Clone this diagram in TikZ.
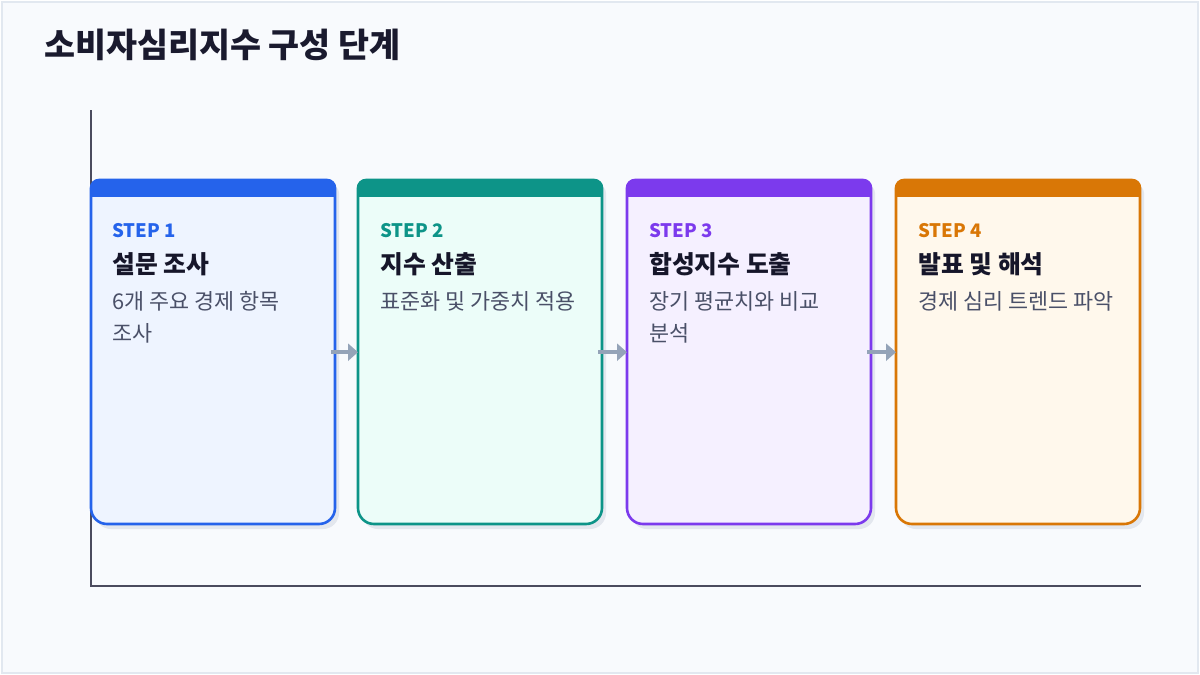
\documentclass[tikz,border=0pt]{standalone}
\usepackage{fontspec}
\setmainfont{Noto Sans CJK KR}
\usetikzlibrary{arrows.meta}
\definecolor{bgc}{HTML}{F8FAFD}
\definecolor{framec}{HTML}{E2E8F0}
\definecolor{shadowc}{HTML}{E3E7EE}
\definecolor{axisc}{HTML}{4B4B5E}
\definecolor{arrc}{HTML}{94A3B8}
\definecolor{titlec}{HTML}{1A1A2E}
\definecolor{headc}{HTML}{16162A}
\definecolor{descc}{HTML}{4A5068}
\definecolor{c1}{HTML}{2563EB}
\definecolor{c2}{HTML}{0D9488}
\definecolor{c3}{HTML}{7C3AED}
\definecolor{c4}{HTML}{D97706}
\definecolor{f1}{HTML}{EEF4FF}
\definecolor{f2}{HTML}{ECFDF9}
\definecolor{f3}{HTML}{F5F0FF}
\definecolor{f4}{HTML}{FFF8EC}
\tikzset{
  txt/.style={inner sep=0pt, anchor=base west},
  steplbl/.style={txt, font=\bfseries\fontsize{18.6}{22}\selectfont},
  headlbl/.style={txt, text=headc, font=\bfseries\fontsize{24.8}{28}\selectfont},
  desclbl/.style={txt, text=descc, font=\fontsize{21.8}{26}\selectfont},
  arr/.style={-{Triangle[length=10pt,width=17pt]}, line width=4pt, draw=arrc},
}
\begin{document}
\begin{tikzpicture}[x=1pt,y=-1pt]
\useasboundingbox (0,0) rectangle (1200,675);
\fill[white] (0,0) rectangle (1200,675);
\draw[fill=bgc, draw=framec, line width=2pt] (2,2) rectangle (1198,673);
\node[txt, text=titlec, font=\bfseries\fontsize{33.7}{38}\selectfont] (title) at (44,57) {소비자심리지수 구성 단계};
% axes
\coordinate (ytop) at (91,110);
\coordinate (orig) at (91,586);
\coordinate (xend) at (1141,586);
\draw[axisc, line width=2pt] (ytop) -- (orig) -- (xend);
% cards
\foreach \x/\c/\f/\n in {91/c1/f1/1, 358/c2/f2/2, 627/c3/f3/3, 896/c4/f4/4}{
  \fill[shadowc, shift={(4,5)}] (\x,352) [rounded corners=8pt] -- (\x,180) -- (\x+122,180) -- (\x+244,180) -- (\x+244,352) [rounded corners=16pt] -- (\x+244,524) -- (\x+122,524) -- (\x,524) -- cycle;
  \begin{scope}
    \clip (\x,352) [rounded corners=8pt] -- (\x,180) -- (\x+122,180) -- (\x+244,180) -- (\x+244,352) [rounded corners=16pt] -- (\x+244,524) -- (\x+122,524) -- (\x,524) -- cycle;
    \fill[\f] (\x,170) rectangle (\x+250,530);
    \fill[\c] (\x,170) rectangle (\x+250,197);
  \end{scope}
  \draw[\c, line width=2.6pt] (\x,352) [rounded corners=8pt] -- (\x,180) -- (\x+122,180) -- (\x+244,180) -- (\x+244,352) [rounded corners=16pt] -- (\x+244,524) -- (\x+122,524) -- (\x,524) -- cycle;
  \node[inner sep=0pt, minimum width=244pt, minimum height=344pt, anchor=north west] (b\n) at (\x,180) {};
}
% texts
\node[steplbl, text=c1] (s1) at (112,237) {STEP 1};
\node[headlbl] (h1) at (112,273) {설문 조사};
\node[desclbl] (d1a) at (112,309) {6개 주요 경제 항목};
\node[desclbl] (d1b) at (112,341) {조사};
\node[steplbl, text=c2] (s2) at (380,237) {STEP 2};
\node[headlbl] (h2) at (380,273) {지수 산출};
\node[desclbl] (d2a) at (380,309) {표준화 및 가중치 적용};
\node[steplbl, text=c3] (s3) at (649,237) {STEP 3};
\node[headlbl] (h3) at (649,273) {합성지수 도출};
\node[desclbl] (d3a) at (649,309) {장기 평균치와 비교};
\node[desclbl] (d3b) at (649,341) {분석};
\node[steplbl, text=c4] (s4) at (918,237) {STEP 4};
\node[headlbl] (h4) at (918,273) {발표 및 해석};
\node[desclbl] (d4a) at (918,309) {경제 심리 트렌드 파악};
% arrows
\draw[arr] ([xshift=-4pt]b1.east) -- (b2.west);
\draw[arr] ([xshift=-4pt]b2.east) -- (b3.west);
\draw[arr] ([xshift=-4pt]b3.east) -- (b4.west);
\end{tikzpicture}
\end{document}
